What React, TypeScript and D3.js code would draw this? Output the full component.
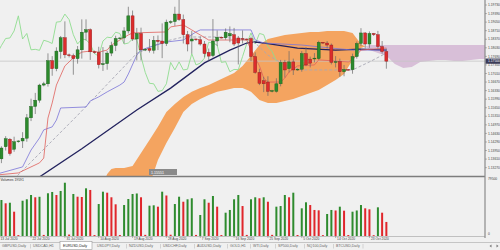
import React from "react";
import * as d3 from "d3";

// ---------- DATA (bar index 0 = 13 Jul 2020, daily incl. Sunday bars) ----------
const opens = [
  1.1320, 1.1362, 1.1410, 1.1440, 1.1400, 1.1430, 1.1433, 1.1444, 1.1525, 1.1570,
  1.1595, 1.1655, 1.1660, 1.1752, 1.1720, 1.1788, 1.1843, 1.1775, 1.1772, 1.1760,
  1.1795, 1.1865, 1.1875, 1.1787, 1.1785, 1.1736, 1.1740, 1.1782, 1.1812, 1.1840,
  1.1842, 1.1870, 1.1930, 1.1838, 1.1860, 1.1795, 1.1800, 1.1793, 1.1833, 1.1830,
  1.1820, 1.1905, 1.1907, 1.1937, 1.1915, 1.1855, 1.1830, 1.1838, 1.1835, 1.1818,
  1.1785, 1.1772, 1.1830, 1.1845, 1.1843, 1.1850, 1.1855, 1.1842, 1.1840, 1.1838,
  1.1840, 1.1768, 1.1705, 1.1672, 1.1667, 1.1630, 1.1630, 1.1660, 1.1745, 1.1720,
  1.1747, 1.1715, 1.1718, 1.1780, 1.1758, 1.1760, 1.1760, 1.1825, 1.1822, 1.1814,
  1.1745, 1.1748, 1.1708, 1.1717, 1.1716, 1.1768, 1.1820, 1.1862, 1.1818, 1.1860,
  1.1855, 1.1808, 1.1788,
];
const highs = [
  1.1375, 1.1412, 1.1452, 1.1445, 1.1450, 1.1436, 1.1468, 1.1540, 1.1601, 1.1624,
  1.1660, 1.1668, 1.1781, 1.1770, 1.1805, 1.1850, 1.1908, 1.1780, 1.1780, 1.1810,
  1.1916, 1.1916, 1.1880, 1.1792, 1.1807, 1.1806, 1.1790, 1.1827, 1.1851, 1.1846,
  1.1885, 1.1966, 1.1951, 1.1882, 1.1883, 1.1802, 1.1838, 1.1850, 1.1852, 1.1900,
  1.1915, 1.1912, 1.1966, 1.2011, 1.1935, 1.1870, 1.1870, 1.1840, 1.1848, 1.1830,
  1.1800, 1.1917, 1.1872, 1.1848, 1.1880, 1.1888, 1.1882, 1.1850, 1.1872, 1.1840,
  1.1847, 1.1785, 1.1720, 1.1688, 1.1690, 1.1636, 1.1682, 1.1755, 1.1755, 1.1790,
  1.1760, 1.1721, 1.1790, 1.1806, 1.1768, 1.1782, 1.1831, 1.1826, 1.1830, 1.1820,
  1.1770, 1.1760, 1.1735, 1.1719, 1.1780, 1.1828, 1.1881, 1.1865, 1.1868, 1.1862,
  1.1870, 1.1830, 1.1800,
];
const lows = [
  1.1305, 1.1345, 1.1395, 1.1375, 1.1390, 1.1426, 1.1405, 1.1430, 1.1512, 1.1540,
  1.1585, 1.1650, 1.1649, 1.1692, 1.1710, 1.1760, 1.1762, 1.1765, 1.1696, 1.1740,
  1.1760, 1.1832, 1.1755, 1.1780, 1.1721, 1.1711, 1.1716, 1.1770, 1.1790, 1.1836,
  1.1820, 1.1860, 1.1830, 1.1753, 1.1753, 1.1790, 1.1784, 1.1780, 1.1794, 1.1762,
  1.1810, 1.1898, 1.1890, 1.1910, 1.1820, 1.1789, 1.1780, 1.1830, 1.1812, 1.1765,
  1.1752, 1.1765, 1.1810, 1.1840, 1.1835, 1.1825, 1.1810, 1.1737, 1.1820, 1.1832,
  1.1750, 1.1700, 1.1655, 1.1627, 1.1612, 1.1626, 1.1625, 1.1650, 1.1685, 1.1705,
  1.1695, 1.1712, 1.1708, 1.1730, 1.1725, 1.1745, 1.1755, 1.1818, 1.1800, 1.1737,
  1.1725, 1.1688, 1.1690, 1.1713, 1.1700, 1.1760, 1.1810, 1.1800, 1.1803, 1.1850,
  1.1800, 1.1780, 1.1720,
];
const closes = [
  1.1362, 1.1405, 1.1442, 1.1383, 1.1430, 1.1433, 1.1444, 1.1525, 1.1570, 1.1595,
  1.1655, 1.1660, 1.1752, 1.1720, 1.1790, 1.1843, 1.1775, 1.1772, 1.1760, 1.1795,
  1.1865, 1.1875, 1.1787, 1.1785, 1.1736, 1.1740, 1.1782, 1.1812, 1.1840, 1.1842,
  1.1870, 1.1930, 1.1838, 1.1860, 1.1795, 1.1797, 1.1793, 1.1833, 1.1828, 1.1820,
  1.1905, 1.1907, 1.1937, 1.1915, 1.1855, 1.1818, 1.1838, 1.1835, 1.1818, 1.1780,
  1.1770, 1.1830, 1.1845, 1.1843, 1.1865, 1.1860, 1.1818, 1.1822, 1.1838, 1.1836,
  1.1768, 1.1705, 1.1662, 1.1660, 1.1630, 1.1633, 1.1660, 1.1745, 1.1715, 1.1747,
  1.1715, 1.1718, 1.1780, 1.1735, 1.1742, 1.1762, 1.1825, 1.1822, 1.1814, 1.1745,
  1.1748, 1.1708, 1.1717, 1.1716, 1.1768, 1.1820, 1.1862, 1.1818, 1.1860, 1.1855,
  1.1808, 1.1788, 1.1750,
];
const volumes = [
  40000, 50200, 45600, 46400, 33900, 1200, 49200, 51200, 57200, 54000,
  54700, 1500, 59600, 61400, 57200, 62800, 74300, 2000, 58600, 54800,
  54400, 66500, 64200, 1300, 44600, 61800, 60400, 54000, 44200, 1400,
  43200, 51600, 58600, 59300, 54000, 1600, 42300, 42800, 40900, 61800,
  56500, 1800, 44600, 54800, 47800, 51200, 52600, 1500, 29300, 51200,
  46400, 55800, 40900, 1300, 32500, 36300, 51200, 57200, 41800, 1500,
  51200, 54000, 52600, 54000, 47800, 1600, 40900, 41800, 57200, 54000,
  60400, 1400, 38600, 47000, 43200, 36300, 35800, 1200, 30700, 36300,
  35600, 40900, 35300, 1300, 33900, 35600, 43200, 38600, 37200, 1100,
  40000, 32500, 19591,
];

// Ichimoku cloud (shifted forward)
const cloudIdx = [24, 26, 27, 28, 30, 32, 34, 36, 38, 40, 42, 44, 46, 48, 50, 52, 54, 56, 58, 60,
  62, 64, 66, 68, 70, 72, 74, 76, 78, 80, 82, 84, 86, 87, 88, 90, 92, 94, 96, 98, 100,
  102, 104, 106, 108, 110, 112, 114, 116, 118];
const spanA = [1.1218, 1.1302, 1.1322, 1.1326, 1.1326, 1.1334, 1.1385, 1.1437, 1.1489, 1.1548,
  1.1580, 1.1608, 1.1628, 1.1643, 1.1655, 1.1671, 1.1687, 1.1703, 1.1731, 1.1771,
  1.1814, 1.1838, 1.1846, 1.1854, 1.1858, 1.1862, 1.1866, 1.1866, 1.1870, 1.1870,
  1.1870, 1.1862, 1.1818, 1.1808, 1.1794, 1.1782, 1.1771, 1.1739, 1.1723, 1.1727,
  1.1747, 1.1751, 1.1755, 1.1755, 1.1751, 1.1751, 1.1755, 1.1759, 1.1759, 1.1759];
const spanB = [1.0881, 1.0960, 1.0980, 1.1000, 1.1040, 1.1099, 1.1179, 1.1258, 1.1357, 1.1425,
  1.1485, 1.1548, 1.1580, 1.1600, 1.1616, 1.1628, 1.1635, 1.1643, 1.1643, 1.1628,
  1.1596, 1.1584, 1.1584, 1.1592, 1.1600, 1.1612, 1.1624, 1.1635, 1.1655, 1.1675,
  1.1699, 1.1755, 1.1802, 1.1808, 1.1814, 1.1814, 1.1814, 1.1814, 1.1814, 1.1814,
  1.1814, 1.1814, 1.1814, 1.1814, 1.1814, 1.1814, 1.1814, 1.1814, 1.1814, 1.1814];

// Tenkan-like red line
const redIdx = [0, 5, 10, 11, 12, 13, 14, 16, 18, 20, 22, 24, 26, 27, 29, 31, 32, 40, 41, 44, 46, 48, 50,
  59, 60, 61, 62, 63, 64, 67, 68, 69, 71, 75, 76, 83, 84, 85, 86, 92];
const redVal = [1.1298, 1.1306, 1.1346, 1.1365, 1.1524, 1.1584, 1.1655, 1.1731, 1.1763, 1.1786,
  1.1790, 1.1786, 1.1794, 1.1814, 1.1834, 1.1854, 1.1862, 1.1866, 1.1886, 1.1894, 1.1874,
  1.1854, 1.1834, 1.1834, 1.1794, 1.1763, 1.1731, 1.1683, 1.1667, 1.1667, 1.1683, 1.1707,
  1.1731, 1.1735, 1.1755, 1.1747, 1.1755, 1.1774, 1.1794, 1.1802];
// Kijun-like blue line
const blueIdx = [0, 6, 8, 10, 11, 13, 14, 15, 21, 22, 24, 26, 29, 30, 31, 33, 34, 36, 40, 44, 47, 48,
  60, 61, 63, 72, 79, 84, 92];
const blueVal = [1.1302, 1.1330, 1.1397, 1.1445, 1.1477, 1.1489, 1.1516, 1.1564, 1.1568, 1.1592,
  1.1608, 1.1628, 1.1655, 1.1667, 1.1699, 1.1774, 1.1794, 1.1806, 1.1826, 1.1834, 1.1866,
  1.1874, 1.1874, 1.1834, 1.1822, 1.1814, 1.1802, 1.1794, 1.1794];
// Grey dashed moving average
const dashIdx = [4, 19, 33, 39, 44, 52, 58, 61, 64, 68, 72, 80, 84, 88, 92];
const dashVal = [1.1282, 1.1535, 1.1781, 1.1826, 1.1846, 1.1846, 1.1838, 1.1822, 1.1774, 1.1735,
  1.1715, 1.1715, 1.1715, 1.1747, 1.1782];
// Navy moving average
const navyIdx = [9, 20, 33, 41, 49, 55, 59, 61, 64, 71, 80, 86, 92];
const navyVal = [1.1279, 1.1402, 1.1556, 1.1643, 1.1743, 1.1794, 1.1822, 1.1826, 1.1820, 1.1802,
  1.1794, 1.1798, 1.1794];

const CHIKOU_SHIFT = 26;

const priceTicks = [1.1973, 1.1939, 1.1905, 1.1871, 1.1837, 1.1803, 1.1769, 1.1735, 1.1701, 1.1667,
  1.1633, 1.1599, 1.1565, 1.1531, 1.1497, 1.1463, 1.1429, 1.1395, 1.1361, 1.1327];
const dateIdx = [0, 8, 16, 24, 32, 40, 48, 56, 64, 72, 80, 88];
const dateLabels = ["13 Jul 2020", "22 Jul 2020", "31 Jul 2020", "10 Aug 2020", "19 Aug 2020",
  "28 Aug 2020", "7 Sep 2020", "16 Sep 2020", "25 Sep 2020", "5 Oct 2020", "14 Oct 2020", "23 Oct 2020"];
const tabLabels = ["GBPUSD,Daily", "USDCAD,H1", "EURUSD,Daily", "USDJPY,Daily", "NZDUSD,Daily",
  "USDCHF,Daily", "AUDUSD,Daily", "GOLD,H1", "WTI,Daily", "SP500,Daily", "NQ100,Daily", "BTCUSD,Daily"];
const tabX = [2, 33, 63, 97, 129, 163, 197, 230, 253, 278, 307, 336];
const activeTab = 2;
const volMaxLabel = "79500";
const lastPrice = 1.1750;

// ---------- LAYOUT ----------
const W = 500;
const H = 250;
const PR = 485; // plot right
const MAIN_B = 176;
const VOL_T = 178;
const VOL_B = 236;
const FONT = "'Liberation Sans', Arial, sans-serif";

export default function App() {
  const x = d3.scaleLinear().domain([0, 92]).range([-2.8, -2.8 + 4.23 * 92]);
  const y = d3.scaleLinear().domain([1.1973, 1.1327]).range([5, 167.66]);
  const yv = d3.scaleLinear().domain([0, 79500]).range([VOL_B, 179]);

  const pairs = (ix: number[], v: number[]) => ix.map((d, i) => [d, v[i]] as [number, number]);
  const line = d3.line<[number, number]>().x((d) => x(d[0])).y((d) => y(d[1]));

  const cloud = cloudIdx.map((d, i) => ({ i: d, a: spanA[i], b: spanB[i] }));
  const orangeArea = d3
    .area<{ i: number; a: number; b: number }>()
    .x((d) => x(d.i))
    .y0((d) => y(Math.min(d.a, d.b)))
    .y1((d) => y(d.a));
  const purpleArea = d3
    .area<{ i: number; a: number; b: number }>()
    .x((d) => x(d.i))
    .y0((d) => y(Math.min(d.a, d.b)))
    .y1((d) => y(d.b));

  const chikou: [number, number][] = closes
    .map((c, i) => [i - CHIKOU_SHIFT, c] as [number, number])
    .filter((d) => d[0] >= -1);

  const bull = "#2c8a2c";
  const bear = "#dc2c2c";

  return (
    <div style={{ position: "absolute", left: 0, top: 0 }}>
      <svg width={W} height={H} style={{ display: "block", background: "#f0f0f0" }}>
        <defs>
          <clipPath id="mainClip">
            <rect x={0} y={0} width={PR} height={MAIN_B} />
          </clipPath>
          <clipPath id="volClip">
            <rect x={0} y={VOL_T} width={PR} height={VOL_B - VOL_T} />
          </clipPath>
        </defs>
        <rect x={0} y={0} width={W} height={H} fill="#f0f0f0" />

        {/* main panel */}
        <g clipPath="url(#mainClip)">
          <path d={orangeArea(cloud) || ""} fill="#f4a460" />
          <path d={purpleArea(cloud) || ""} fill="#d8bfd8" />
          <line x1={0} x2={PR} y1={y(lastPrice)} y2={y(lastPrice)} stroke="#c4c4c4" strokeWidth={0.8} />
          <path d={line(chikou) || ""} fill="none" stroke="#8fdc8f" strokeWidth={0.9} />
          <path d={line(pairs(navyIdx, navyVal)) || ""} fill="none" stroke="#22225e" strokeWidth={1.3} />
          <path d={line(pairs(dashIdx, dashVal)) || ""} fill="none" stroke="#a8a8b4" strokeWidth={0.9} strokeDasharray="3,2" />
          <path d={line(pairs(blueIdx, blueVal)) || ""} fill="none" stroke="#7a74d8" strokeWidth={0.8} />
          <path d={line(pairs(redIdx, redVal)) || ""} fill="none" stroke="#e0605a" strokeWidth={0.8} />
          {opens.map((o, i) => {
            const c = closes[i];
            const up = c >= o;
            const col = up ? bull : bear;
            const cx = x(i);
            const top = y(Math.max(o, c));
            const h = Math.max(0.8, Math.abs(y(o) - y(c)));
            return (
              <g key={i}>
                <line x1={cx} x2={cx} y1={y(highs[i])} y2={y(lows[i])} stroke="#6a6a6a" strokeWidth={0.7} />
                <rect x={cx - 1.5} y={top} width={3} height={h} fill={col} stroke={up ? "#1c5c1c" : "#8c1c1c"} strokeWidth={0.4} />
              </g>
            );
          })}
          <rect x={149} y={169} width={28} height={6} fill="#8a8a8a" />
          <text x={151} y={173.6} fontSize={3.6} fill="#ffffff" fontFamily={FONT}>1.15551</text>
        </g>

        {/* volume panel */}
        <g clipPath="url(#volClip)">
          {volumes.map((v, i) => {
            const up = i === 0 ? true : v > volumes[i - 1];
            return (
              <rect key={i} x={x(i) - 1} y={yv(v)} width={2} height={VOL_B - yv(v)} fill={up ? "#2e8b2e" : "#e0262b"} />
            );
          })}
        </g>
        <text x={0.5} y={181} fontSize={3.4} fill="#333" fontFamily={FONT}>Volumes 19591</text>

        {/* frame lines */}
        <line x1={0} x2={PR} y1={176.5} y2={176.5} stroke="#7d7d7d" strokeWidth={1.4} />
        <line x1={0} x2={PR} y1={VOL_B + 0.5} y2={VOL_B + 0.5} stroke="#a0a0a0" strokeWidth={0.6} />
        <line x1={PR} x2={PR} y1={0} y2={238} stroke="#8a8a8a" strokeWidth={1.2} />

        {/* price axis */}
        {priceTicks.map((p, k) => (
          <g key={k}>
            <line x1={PR} x2={PR + 2} y1={y(p)} y2={y(p)} stroke="#777" strokeWidth={0.5} />
            <text x={488} y={y(p) + 1.2} fontSize={3.3} fill="#444" fontFamily={FONT}>
              {d3.format(".5f")(p)}
            </text>
          </g>
        ))}
        <rect x={PR + 0.6} y={y(lastPrice) - 2.6} width={W - PR} height={5.2} fill="#3b3b58" />
        <text x={488} y={y(lastPrice) + 1.2} fontSize={3.3} fill="#ffffff" fontFamily={FONT}>
          {d3.format(".5f")(lastPrice)}
        </text>

        {/* volume axis */}
        <text x={488} y={180} fontSize={3.3} fill="#444" fontFamily={FONT}>{volMaxLabel}</text>
        <text x={488} y={235} fontSize={3.3} fill="#444" fontFamily={FONT}>0</text>

        {/* date axis */}
        {dateIdx.map((di, k) => (
          <g key={k}>
            <line x1={x(di)} x2={x(di)} y1={VOL_B} y2={VOL_B + 2} stroke="#777" strokeWidth={0.5} />
            <text x={Math.max(0.5, x(di) + 1.5)} y={240} fontSize={3.3} fill="#444" fontFamily={FONT}>
              {dateLabels[k]}
            </text>
          </g>
        ))}

        {/* tabs */}
        <line x1={0} x2={W} y1={242.5} y2={242.5} stroke="#a8a8a8" strokeWidth={0.6} />
        <rect x={60} y={241.5} width={32} height={8} fill="#ffffff" stroke="#9a9a9a" strokeWidth={0.6} />
        {tabLabels.map((t, k) => (
          <g key={k}>
            <text x={tabX[k]} y={247} fontSize={3.6} fill={k === activeTab ? "#222" : "#666"} fontFamily={FONT}>
              {t}
            </text>
            {k > 0 && k !== activeTab && k !== activeTab + 1 && (
              <line x1={tabX[k] - 2.5} x2={tabX[k] - 2.5} y1={244} y2={248.5} stroke="#b4b4b4" strokeWidth={0.5} />
            )}
          </g>
        ))}
        <line x1={363} x2={363} y1={244} y2={248.5} stroke="#b4b4b4" strokeWidth={0.5} />
        <path d="M491.5,244.5 L489.5,246 L491.5,247.5 Z" fill="#777" />
        <path d="M496.5,244.5 L498.5,246 L496.5,247.5 Z" fill="#777" />
      </svg>
    </div>
  );
}
